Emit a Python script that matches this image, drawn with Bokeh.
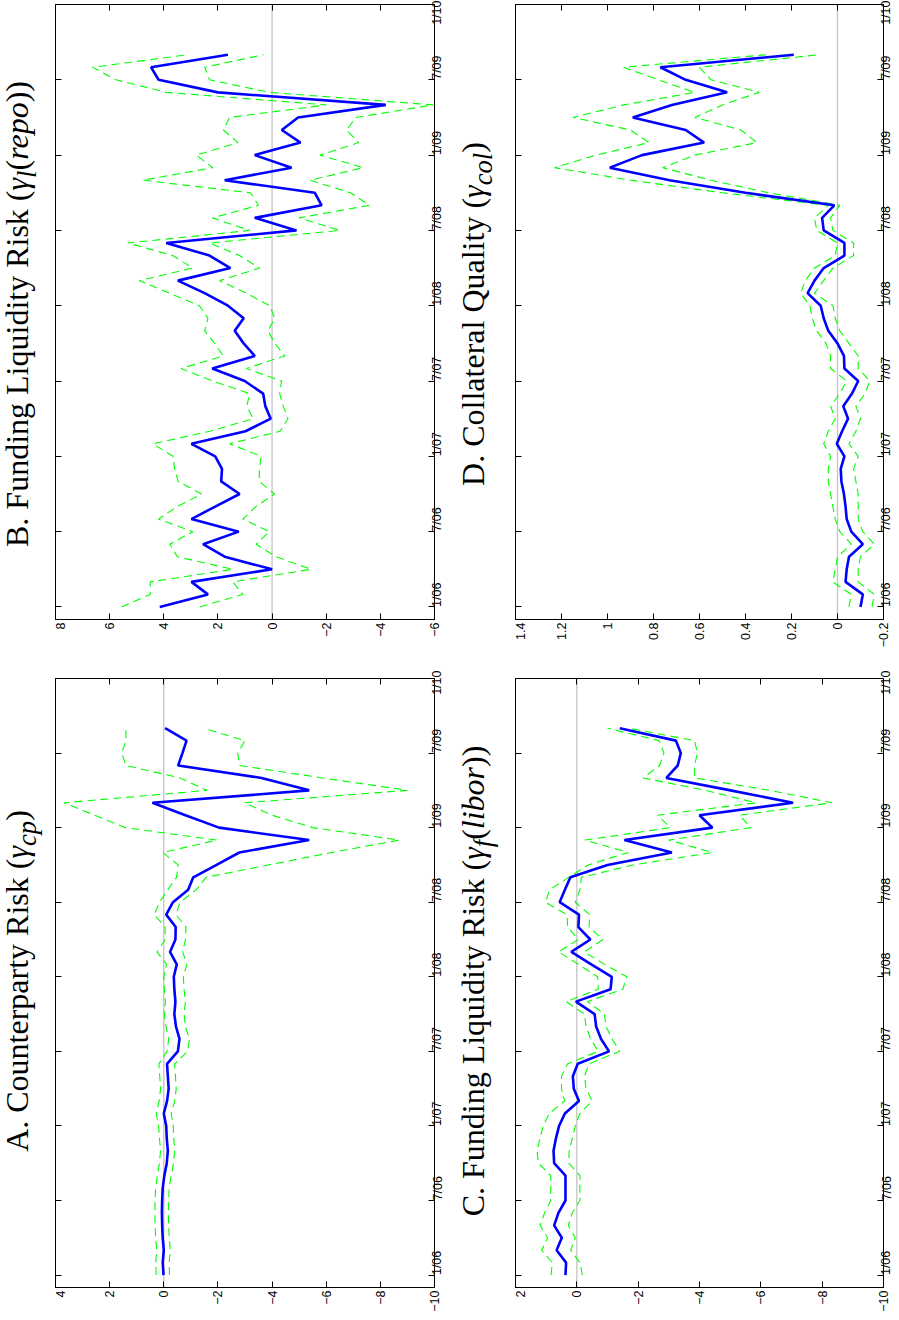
import math
from bokeh.plotting import figure
from bokeh.models import Range1d, FixedTicker, LinearAxis, Span, Div
from bokeh.layouts import row, column
from bokeh.embed import file_html
from bokeh.resources import INLINE

# months since Jan 2006 (Jan 2006 .. Sep 2009, monthly)
months = list(range(45))
time_ticks = [0, 6, 12, 18, 24, 30, 36, 42, 48]
time_labels = ["1/06", "7/06", "1/07", "7/07", "1/08", "7/08", "1/09", "7/09", "1/10"]

# A. Counterparty risk
a_est = [0.01, 0.04, 0.00, 0.04, 0.06, 0.07, 0.06, 0.04, -0.02, -0.11, -0.15, -0.11, -0.09, 0.00, -0.12,
         -0.18, -0.15, -0.12, -0.52, -0.58, -0.45, -0.39, -0.43, -0.39, -0.37, -0.48, -0.23, -0.43, -0.44,
         -0.09, -0.34, -0.90, -1.09, -1.95, -2.79, -5.37, -2.04, -0.80, 0.42, -5.37, -3.61, -0.53, -0.69,
         -0.84, -0.05]
a_hi = [0.28, 0.30, 0.26, 0.30, 0.32, 0.33, 0.32, 0.30, 0.24, 0.16, 0.12, 0.16, 0.19, 0.28, 0.17, 0.12,
        0.15, 0.18, -0.12, -0.18, -0.08, -0.02, -0.06, -0.02, 0.00, -0.10, 0.25, -0.05, -0.05, 0.35, 0.16,
        -0.15, -0.47, -0.53, 0.04, -1.97, 1.42, 2.55, 3.69, -1.60, -0.60, 1.40, 1.55, 1.40, 1.40]
a_lo = [-0.21, -0.20, -0.24, -0.20, -0.18, -0.17, -0.18, -0.20, -0.27, -0.36, -0.40, -0.37, -0.35, -0.27,
        -0.40, -0.46, -0.43, -0.40, -0.88, -0.95, -0.80, -0.75, -0.80, -0.75, -0.72, -0.85, -0.70, -0.80,
        -0.82, -0.45, -0.60, -1.20, -1.56, -3.86, -6.20, -8.70, -5.50, -4.00, -2.98, -9.00, -5.86, -2.80,
        -2.73, -3.00, -1.47]

# B. Funding liquidity risk (repo)
b_est = [4.15, 2.37, 2.98, 0.00, 1.75, 2.55, 1.23, 2.98, 2.10, 1.20, 1.88, 1.85, 2.10, 2.98, 0.98, 0.05,
         0.25, 0.33, 1.01, 2.21, 0.64, 1.05, 1.38, 1.05, 1.63, 2.49, 3.48, 1.54, 2.31, 3.91, -0.90, 0.64,
         -1.83, -1.58, 1.75, -0.72, 0.64, -1.05, -0.36, -0.96, -4.20, 2.00, 4.19, 4.47, 1.63]
b_hi = [5.56, 4.50, 4.50, 1.45, 3.50, 3.78, 2.92, 4.20, 3.50, 2.60, 3.47, 3.60, 3.66, 4.40, 2.30, 0.70,
        0.93, 0.83, 2.19, 3.36, 1.80, 2.12, 2.49, 2.37, 2.68, 3.79, 4.90, 2.93, 3.67, 5.33, 0.83, 2.20,
        0.50, 0.80, 4.78, 2.19, 2.80, 1.26, 1.80, 1.57, -2.00, 3.90, 5.77, 6.63, 3.11]
b_lo = [2.67, 1.08, 1.45, -1.44, -0.15, 0.59, 0.10, 1.08, 0.60, -0.09, 0.47, 0.47, 0.40, 1.57, -0.30,
        -0.59, -0.41, -0.28, -0.35, 0.95, -0.47, -0.10, 0.15, -0.10, 0.09, 0.95, 1.94, 0.46, 1.20, 2.31,
        -2.50, -1.00, -3.60, -2.90, -1.40, -3.37, -1.77, -3.20, -2.75, -3.10, -5.96, 0.10, 2.31, 2.49, 0.31]

# C. Funding liquidity risk (libor)
c_est = [0.37, 0.35, 0.66, 0.49, 0.74, 0.60, 0.37, 0.37, 0.37, 0.74, 0.76, 0.68, 0.58, 0.39, -0.07, 0.10,
         0.13, -0.03, -1.05, -0.79, -0.63, -0.58, 0.03, -1.10, -1.14, -0.47, 0.18, -0.44, -0.05, -0.07,
         0.56, 0.39, 0.21, -1.00, -3.10, -1.55, -4.42, -4.00, -7.05, -5.01, -2.92, -3.29, -3.39, -3.23, -1.40]
c_hi = [0.84, 0.80, 1.15, 0.95, 1.20, 1.05, 0.85, 0.85, 0.85, 1.25, 1.30, 1.20, 1.10, 0.90, 0.40, 0.50,
        0.50, 0.30, -0.70, -0.45, -0.30, -0.25, 0.35, -0.70, -0.68, -0.05, 0.60, -0.05, 0.30, 0.32, 1.02,
        0.89, 0.26, -0.37, -1.68, -0.26, -3.05, -2.63, -5.84, -4.20, -2.16, -2.70, -2.84, -2.68, -1.00]
c_lo = [-0.18, -0.10, 0.20, 0.05, 0.28, 0.15, -0.10, -0.10, -0.10, 0.26, 0.25, 0.15, 0.05, -0.10, -0.50,
        -0.30, -0.25, -0.40, -1.40, -1.15, -0.95, -0.90, -0.35, -1.50, -1.63, -0.90, -0.25, -0.85, -0.40,
        -0.42, 0.05, -0.10, -0.15, -1.84, -4.42, -3.00, -5.68, -5.30, -8.32, -6.30, -3.84, -3.84, -3.93,
        -3.84, -1.70]

# D. Collateral quality
d_est = [-0.10, -0.11, -0.035, -0.04, -0.05, -0.11, -0.06, -0.04, -0.035, -0.028, -0.017, -0.014, -0.03,
         0.003, -0.02, -0.046, -0.025, -0.063, -0.09, -0.03, -0.028, 0.00, 0.04, 0.06, 0.073, 0.13, 0.10,
         0.06, -0.03, -0.03, 0.06, 0.067, 0.014, 0.40, 0.73, 0.99, 0.85, 0.58, 0.66, 0.89, 0.72, 0.48, 0.66,
         0.77, 0.19]
d_hi = [-0.05, -0.06, 0.02, 0.01, 0.00, -0.06, -0.01, 0.01, 0.02, 0.03, 0.04, 0.04, 0.03, 0.06, 0.04, 0.01,
        0.03, -0.01, -0.04, 0.03, 0.03, 0.05, 0.09, 0.11, 0.12, 0.16, 0.14, 0.10, 0.01, 0.00, 0.09, 0.10,
        0.04, 0.50, 0.90, 1.23, 1.05, 0.82, 0.90, 1.15, 0.93, 0.62, 0.78, 0.93, 0.31]
d_lo = [-0.15, -0.16, -0.09, -0.09, -0.10, -0.16, -0.11, -0.09, -0.09, -0.09, -0.08, -0.07, -0.09, -0.05,
        -0.08, -0.10, -0.08, -0.12, -0.14, -0.09, -0.09, -0.05, -0.01, 0.01, 0.02, 0.10, 0.06, 0.02, -0.07,
        -0.07, 0.02, 0.03, -0.01, 0.30, 0.55, 0.76, 0.62, 0.35, 0.42, 0.62, 0.50, 0.34, 0.55, 0.60, 0.08]

a_ticks = [4, 2, 0, -2, -4, -6, -8, -10]
a_labels = ["4", "2", "0", "\u22122", "\u22124", "\u22126", "\u22128", "\u221210"]
b_ticks = [8, 6, 4, 2, 0, -2, -4, -6]
b_labels = ["8", "6", "4", "2", "0", "\u22122", "\u22124", "\u22126"]
c_ticks = [2, 0, -2, -4, -6, -8, -10]
c_labels = ["2", "0", "\u22122", "\u22124", "\u22126", "\u22128", "\u221210"]
d_ticks = [1.4, 1.2, 1.0, 0.8, 0.6, 0.4, 0.2, 0.0, -0.2]
d_labels = ["1.4", "1.2", "1", "0.8", "0.6", "0.4", "0.2", "0", "\u22120.2"]

titles = {
    "A": "A. Counterparty Risk (<i>&gamma;</i><sub><i>cp</i></sub>)",
    "B": "B. Funding Liquidity Risk (<i>&gamma;</i><sub><i>l</i></sub>(<i>repo</i>))",
    "C": "C. Funding Liquidity Risk (<i>&gamma;</i><sub><i>f</i></sub>(<i>libor</i>))",
    "D": "D. Collateral Quality (<i>&gamma;</i><sub><i>col</i></sub>)",
}


def style_axis(ax, ticks, labels, show):
    ax.ticker = FixedTicker(ticks=ticks, minor_ticks=[])
    ax.major_label_overrides = {t: l for t, l in zip(ticks, labels)}
    ax.major_tick_in = 6
    ax.major_tick_out = 0
    ax.minor_tick_in = 0
    ax.minor_tick_out = 0
    ax.axis_line_color = "black"
    ax.major_tick_line_color = "black"
    ax.major_label_text_font = "Liberation Sans"
    ax.major_label_text_color = "black"
    ax.major_label_orientation = math.pi / 2
    if show:
        ax.major_label_text_font_size = "12.5px"
        ax.major_label_standoff = 3
    else:
        ax.major_label_text_font_size = "0px"
        ax.major_label_standoff = 0


def panel(est, hi, lo, vmax, vmin, vticks, vlabels, width, height, mtop, mbottom, mright):
    p = figure(width=width, height=height, x_range=Range1d(vmax, vmin), y_range=Range1d(-1, 48),
               output_backend="svg", toolbar_location=None, x_axis_location="below",
               y_axis_location="right", min_border_left=0, min_border_right=mright,
               min_border_top=mtop, min_border_bottom=mbottom, background_fill_color="white",
               border_fill_color="white")
    p.xgrid.visible = False
    p.ygrid.visible = False
    p.outline_line_color = "black"
    p.outline_line_width = 1
    style_axis(p.xaxis[0], vticks, vlabels, True)
    style_axis(p.yaxis[0], time_ticks, time_labels, True)
    top_ax = LinearAxis()
    style_axis(top_ax, vticks, [""] * len(vticks), False)
    p.add_layout(top_ax, "above")
    left_ax = LinearAxis()
    style_axis(left_ax, time_ticks, [""] * len(time_ticks), False)
    p.add_layout(left_ax, "left")
    p.add_layout(Span(location=0, dimension="height", line_color="#c4c4c4", line_width=1.3,
                      level="underlay"))
    p.line(x=hi, y=months, line_color="#00ff00", line_width=1.1, line_dash="8 5")
    p.line(x=lo, y=months, line_color="#00ff00", line_width=1.1, line_dash="8 5")
    p.line(x=est, y=months, line_color="#0000ff", line_width=2.6)
    return p


def title_div(html, width, height, cx, cy):
    inner = ('<div style="position:relative;width:%dpx;height:%dpx;">'
             '<div style="position:absolute;left:%dpx;top:%dpx;'
             'transform:translate(-50%%,-50%%) rotate(-90deg);white-space:nowrap;'
             "font-family:'Liberation Serif';font-size:32px;line-height:1;color:black;\">"
             '%s</div></div>') % (width, height, cx, cy, html)
    return Div(text=inner, width=width, height=height)


H1, H2 = 660, 644
pB = panel(b_est, b_hi, b_lo, 8, -6, b_ticks, b_labels, 402, H1, 4, 41, 23)
pD = panel(d_est, d_hi, d_lo, 1.4, -0.2, d_ticks, d_labels, 388, H1, 4, 41, 18)
pA = panel(a_est, a_hi, a_lo, 4, -10, a_ticks, a_labels, 402, H2, 8, 25, 23)
pC = panel(c_est, c_hi, c_lo, 2, -10, c_ticks, c_labels, 388, H2, 8, 25, 18)

tB = title_div(titles["B"], 45, H1, 16, 309)
tD = title_div(titles["D"], 48, H1, 15, 309)
tA = title_div(titles["A"], 45, H2, 16, 306)
tC = title_div(titles["C"], 48, H2, 15, 306)

layout = column(row(tB, pB, tD, pD), row(tA, pA, tC, pC))

with open("out.html", "w") as f:
    f.write(file_html(layout, INLINE, title="Risk factors"))
